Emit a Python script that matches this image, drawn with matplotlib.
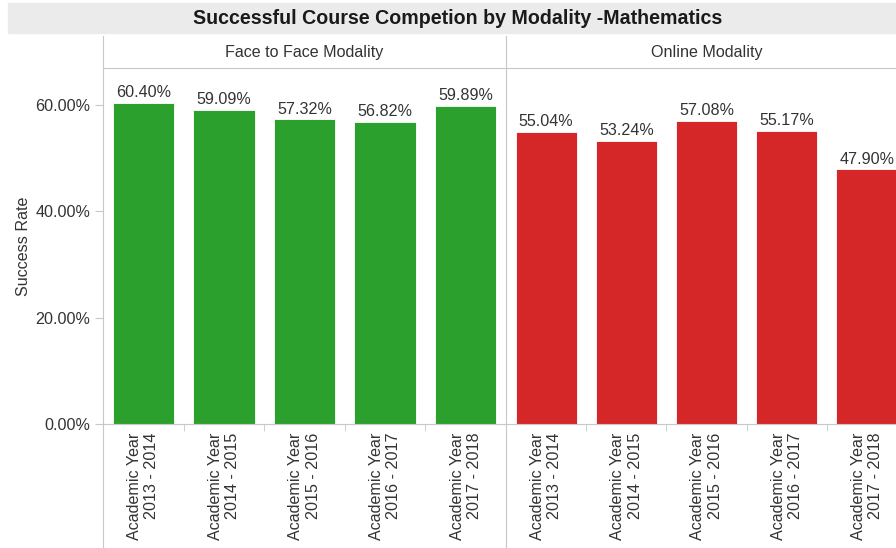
import matplotlib
matplotlib.use("Agg")
import matplotlib.pyplot as plt
from matplotlib.patches import Rectangle
from matplotlib.lines import Line2D

plt.rcParams['font.family'] = ['Liberation Sans', 'DejaVu Sans']

title = "Successful Course Competion by Modality -Mathematics"
panels = ["Face to Face Modality", "Online Modality"]
years = ["Academic Year\n2013 - 2014", "Academic Year\n2014 - 2015",
         "Academic Year\n2015 - 2016", "Academic Year\n2016 - 2017",
         "Academic Year\n2017 - 2018"]
face_to_face = [60.40, 59.09, 57.32, 56.82, 59.89]
online = [55.04, 53.24, 57.08, 55.17, 47.90]
colors = ["#2ca02c", "#d62728"]
yticks = [0, 20, 40, 60]

W, H = 896, 548
fig = plt.figure(figsize=(W / 100, H / 100), dpi=100)

def fx(px):
    return px / W

def fy(py):
    return 1 - py / H

txt = "#333333"
grid = "#c8c8c8"
fs = 11.6

# title bar
fig.patches.append(Rectangle((fx(8), fy(33)), fx(896 - 8), 30 / H,
                             transform=fig.transFigure, color="#ebebeb", zorder=0))
fig.text(fx(458), fy(19), title, ha="center", va="center",
         fontsize=14.1, fontweight="bold", color="#1a1a1a")

panel_left = [103, 506]
panel_w = [403, 401]
top, bottom = 68, 424

for i, (name, vals) in enumerate(zip(panels, [face_to_face, online])):
    left = panel_left[i]
    pw = panel_w[i]
    ax = fig.add_axes([fx(left), fy(bottom), fx(pw), (bottom - top) / H])
    x = list(range(len(vals)))
    ax.bar(x, vals, width=0.76, color=colors[i], edgecolor="white", linewidth=0.6)
    ax.set_xlim(-0.5, len(vals) - 0.5)
    ax.set_ylim(0, 67)
    for xi, v in zip(x, vals):
        ax.annotate(f"{v:.2f}%", (xi, v), xytext=(0, 2), textcoords="offset points",
                    ha="center", va="bottom", fontsize=fs, color=txt)
    for s in ["top", "right"]:
        ax.spines[s].set_visible(False)
    ax.spines["left"].set_color(grid)
    ax.spines["bottom"].set_color(grid)
    ax.set_xticks(x)
    ax.set_xticklabels(years, rotation=90, ha="center", va="top",
                       multialignment="right", fontsize=fs, color=txt)
    ax.tick_params(axis="x", which="major", length=0, pad=6)
    ax.set_xticks([k + 0.5 for k in x[:-1]], minor=True)
    ax.tick_params(axis="x", which="minor", length=5, color=grid)
    if i == 0:
        ax.set_yticks(yticks)
        ax.set_yticklabels([f"{t:.2f}%" for t in yticks], fontsize=fs, color=txt)
        ax.tick_params(axis="y", length=6, color=grid, pad=3)
        ax.set_ylabel("Success Rate", fontsize=fs, color=txt, labelpad=3)
    else:
        ax.set_yticks([])
    # header
    hx = fig.add_axes([fx(left), fy(68), fx(pw), 32 / H])
    hx.set_xticks([]); hx.set_yticks([])
    for s in ["top", "right"]:
        hx.spines[s].set_visible(False)
    hx.spines["left"].set_color(grid)
    hx.spines["bottom"].set_color(grid)
    hx.text(0.5, 0.5, name, ha="center", va="center", fontsize=fs, color=txt,
            transform=hx.transAxes)
    hx.patch.set_alpha(0)
    fig.add_artist(Line2D([fx(left), fx(left)], [fy(424), 0], transform=fig.transFigure,
                          color=grid, linewidth=0.8))

fig.savefig("out.png", dpi=100)
